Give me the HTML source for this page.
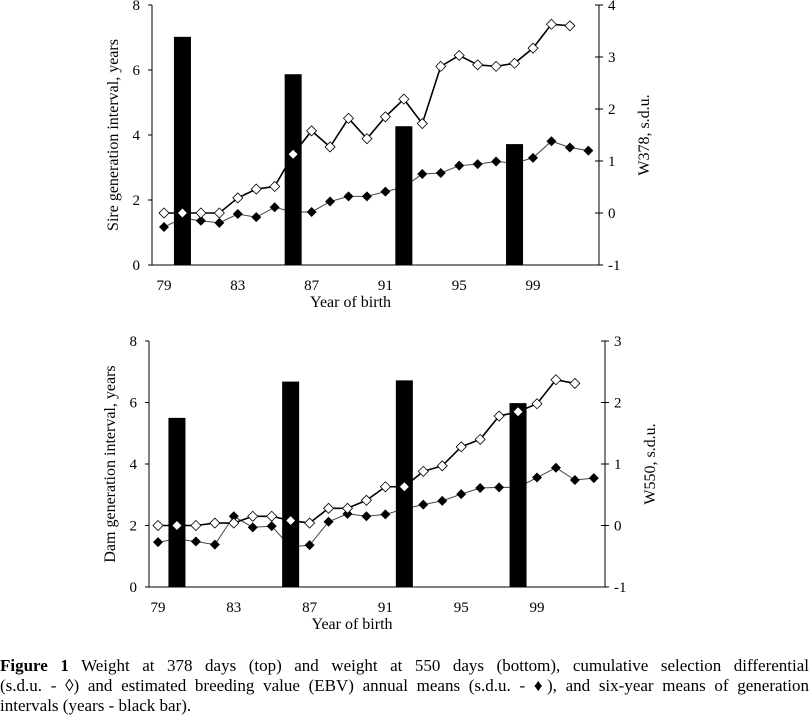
<!DOCTYPE html>
<html><head><meta charset="utf-8"><style>
body{margin:0;background:#fff;width:811px;height:725px;overflow:hidden;font-family:"Liberation Serif","Times New Roman","DejaVu Serif",serif;}
svg{position:absolute;left:0;top:0}
#cap{position:absolute;left:0;top:656px;width:809px;font-size:17px;line-height:20px;color:#000}
.ln{text-align:justify;text-align-last:justify;display:block}
.ln3{display:block;white-space:nowrap}
</style></head><body>
<svg id="chart" width="811" height="650" style="font-family:'Liberation Serif','Times New Roman',serif"></svg>
<div id="cap"><span class="ln"><b>Figure 1</b> Weight at 378 days (top) and weight at 550 days (bottom), cumulative selection differential</span><span class="ln">(s.d.u. - ◊) and estimated breeding value (EBV) annual means (s.d.u. - ♦), and six-year means of generation</span><span class="ln3">intervals (years - black bar).</span></div>
<script>
const years = [79,80,81,82,83,84,85,86,87,88,89,90,91,92,93,94,95,96,97,98,99,100,101,102];
const xTicks = [79,83,87,91,95,99];
const barYears = [80,86,92,98];
const topBars = [7.02,5.87,4.27,3.72];
const topOpen = [0,0,0,0,0.29,0.46,0.51,1.13,1.58,1.27,1.82,1.43,1.85,2.19,1.72,2.82,3.03,2.85,2.82,2.88,3.17,3.63,3.6];
const topFilled = [-0.27,-0.1,-0.15,-0.19,-0.02,-0.08,0.11,0.02,0.02,0.22,0.32,0.32,0.41,0.5,0.75,0.77,0.91,0.94,0.99,0.96,1.06,1.38,1.26,1.2];
const botBars = [5.5,6.68,6.72,5.98];
const botOpen = [0,0,0,0.04,0.04,0.15,0.15,0.08,0.04,0.28,0.28,0.41,0.63,0.63,0.88,0.97,1.28,1.4,1.78,1.85,1.98,2.37,2.31];
const botFilled = [-0.27,-0.22,-0.26,-0.31,0.15,-0.03,-0.01,-0.35,-0.32,0.06,0.19,0.15,0.18,0.27,0.34,0.4,0.51,0.61,0.62,0.62,0.78,0.94,0.74,0.77];
const leftTicks = [0,2,4,6,8];

const svg = document.getElementById('chart');
const NS='http://www.w3.org/2000/svg';
function mk(tag,attrs,parent){const e=document.createElementNS(NS,tag);for(const k in attrs)e.setAttribute(k,attrs[k]);(parent||svg).appendChild(e);return e;}

function drawChart(cfg){
  const g=mk('g',{});
  
  
  const xS=v=>cfg.x79+(v-79)*cfg.xStep;
  const yL=v=>cfg.y0+(v-0)*(cfg.yTop-cfg.y0)/8;
  const yR=v=>cfg.y0+(v-cfg.rMin)*(cfg.yTop-cfg.y0)/(cfg.rMax-cfg.rMin);
  const la=mk('line',{x1:cfg.xl,y1:cfg.yTop,x2:cfg.xl,y2:cfg.y0,stroke:'#000','stroke-width':1},g);
  
  const ra=mk('line',{x1:cfg.xr,y1:cfg.yTop,x2:cfg.xr,y2:cfg.y0,stroke:'#000','stroke-width':1},g);
  
  const xa=mk('line',{x1:cfg.xl-4,y1:cfg.y0,x2:cfg.xr,y2:cfg.y0,stroke:'#000','stroke-width':1},g);
  
  leftTicks.forEach(t=>{
    mk('line',{x1:cfg.xl-4,y1:yL(t),x2:cfg.xl,y2:yL(t),stroke:'#000'},g);
    const tx=mk('text',{x:cfg.xl-12,y:yL(t)+5,'text-anchor':'end','font-size':15},g);
    tx.textContent=t;
    
  });
  for(let t=cfg.rMin;t<=cfg.rMax;t++){
    mk('line',{x1:cfg.xr-4,y1:yR(t),x2:cfg.xr+4,y2:yR(t),stroke:'#000'},g);
    const tx=mk('text',{x:cfg.xr+9,y:yR(t)+5,'font-size':15},g);
    tx.textContent=t;
    
  }
  xTicks.forEach(t=>{
    const tx=mk('text',{x:xS(t),y:cfg.y0+25,'text-anchor':'middle','font-size':15},g);
    tx.textContent=t;
    
  });
  const xt=mk('text',{x:(cfg.xl+cfg.xr)/2-25,y:cfg.y0+42,'text-anchor':'middle','font-size':16},g);
  xt.textContent='Year of birth';
  const lt=mk('text',{transform:`translate(${cfg.xl-34},${(cfg.yTop+cfg.y0)/2}) rotate(-90)`,'text-anchor':'middle','font-size':16},g);
  lt.textContent=cfg.leftTitle;
  const rt=mk('text',{transform:`translate(${cfg.xr+50},${(cfg.yTop+cfg.y0)/2}) rotate(-90)`,'text-anchor':'middle','font-size':16},g);
  rt.textContent=cfg.rightTitle;
  const fp=cfg.filled.map((v,i)=>xS(years[i])+','+yR(v)).join(' ');
  const fl=mk('polyline',{points:fp,fill:'none',stroke:'#444','stroke-width':1},g);
  
  cfg.filled.forEach((v,i)=>{
    const x=xS(years[i]),y=yR(v);
    const d=mk('polygon',{points:`${x},${y-5} ${x+5},${y} ${x},${y+5} ${x-5},${y}`,fill:'#000'},g);
    
  });
  const op=cfg.open.map((v,i)=>xS(years[i])+','+yR(v)).join(' ');
  const ol=mk('polyline',{points:op,fill:'none',stroke:'#000','stroke-width':1.6},g);
  
  cfg.bars.forEach((v,i)=>{
    const x=xS(barYears[i]);
    const b=mk('rect',{x:x-8.5,y:yL(v),width:17,height:cfg.y0-yL(v),fill:'#000'},g);
    
  });
  cfg.open.forEach((v,i)=>{
    const x=xS(years[i]),y=yR(v);
    const d=mk('polygon',{points:`${x},${y-5} ${x+5},${y} ${x},${y+5} ${x-5},${y}`,fill:'#fff',stroke:'#000','stroke-width':0.8},g);
    
  });
}
drawChart({name:'top-chart',xl:152,xr:599,yTop:5,y0:265,x79:164,xStep:18.45,rMin:-1,rMax:4,
  leftTitle:'Sire generation interval, years',rightTitle:'W378, s.d.u.',bars:topBars,open:topOpen,filled:topFilled});
drawChart({name:'bottom-chart',xl:149,xr:605,yTop:341,y0:587,x79:158,xStep:18.95,rMin:-1,rMax:3,
  leftTitle:'Dam generation interval, years',rightTitle:'W550, s.d.u.',bars:botBars,open:botOpen,filled:botFilled});
</script>
</body></html>
